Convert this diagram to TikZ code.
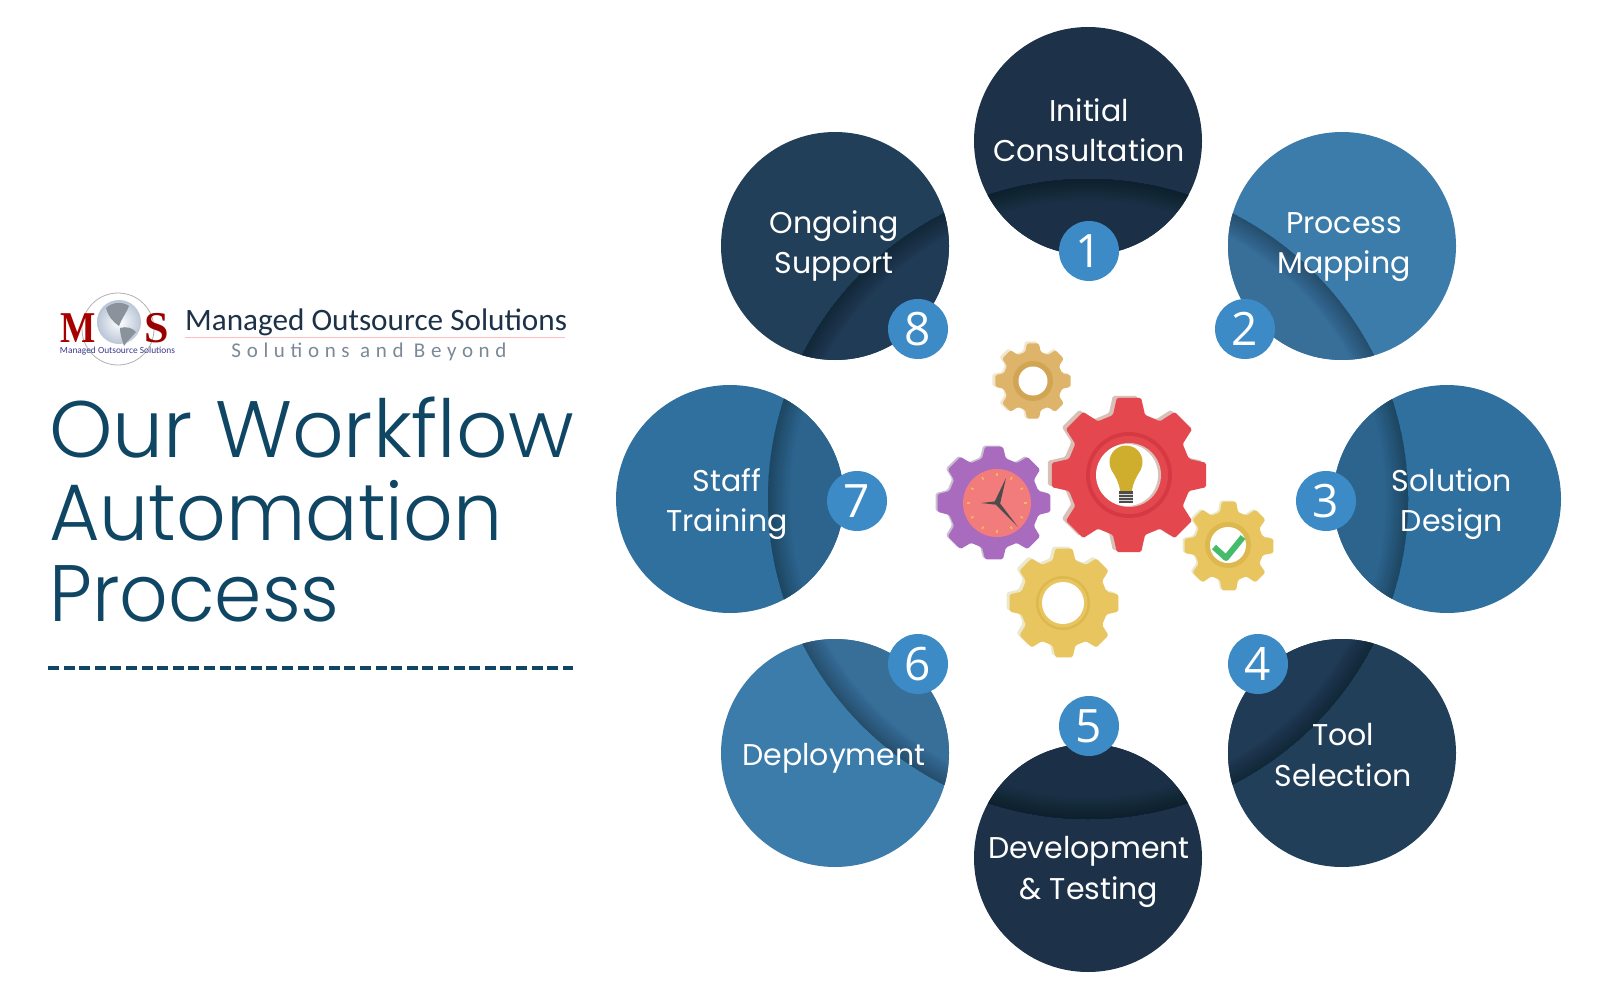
\documentclass[tikz,border=0pt]{standalone}
\usepackage{fontspec}
\setmainfont{Poppins}
\newfontfamily\titlefont{Poppins Light}
\newfontfamily\digitfont{Open Sans}
\newfontfamily\logofont{Carlito}
\newfontfamily\logoserif{Liberation Serif}
\usetikzlibrary{calc}

\definecolor{navy}{HTML}{1D3249}
\definecolor{navydark}{HTML}{1B3046}
\definecolor{sky}{HTML}{3C7CAA}
\definecolor{skydark}{HTML}{376F99}
\definecolor{steel}{HTML}{30709F}
\definecolor{steeldark}{HTML}{2C648E}
\definecolor{slate}{HTML}{223F5A}
\definecolor{slatedark}{HTML}{203B55}
\definecolor{badge}{HTML}{3C8BC6}
\definecolor{titleblue}{HTML}{0F4664}
\definecolor{logoglobe}{HTML}{B9C6D6}
\definecolor{logoland}{HTML}{8A939C}
\definecolor{logotagline}{HTML}{7C8896}
\definecolor{logosmalltext}{HTML}{3A3A8C}
\definecolor{gearred}{HTML}{E5474F}
\definecolor{gearreddark}{HTML}{D53A44}
\definecolor{gearredback}{HTML}{D8C0B6}
\definecolor{geartan}{HTML}{DDB469}
\definecolor{geartandark}{HTML}{D2A555}
\definecolor{geartanback}{HTML}{F2E6CF}
\definecolor{gearpurple}{HTML}{A96BBD}
\definecolor{gearpurpleback}{HTML}{C9BED2}
\definecolor{gearyellow}{HTML}{E8C55F}
\definecolor{gearyellowdark}{HTML}{DDB84E}
\definecolor{gearyellowback}{HTML}{ECE8CC}
\definecolor{clockface}{HTML}{F27B7B}
\definecolor{clocktick}{HTML}{F4B565}
\definecolor{bulb}{HTML}{CFAE2E}
\definecolor{tick}{HTML}{45BC6C}

\tikzset{
  disc/.style={circle,minimum size=228pt,inner sep=0pt,fill=#1},
  badgedisc/.style={circle,minimum size=60pt,inner sep=0pt,fill=badge,text=white,font=\digitfont\fontsize{46}{46}\selectfont},
  steplabel/.style={text=white,align=center,inner sep=0pt,font=\fontsize{30}{40.5}\selectfont},
  titleline/.style={anchor=base west,inner sep=0pt,text=titleblue,font=\titlefont\fontsize{80}{80}\selectfont},
}

% x, y, outer radius, root radius, colour
\newcommand{\gearshape}[5]{
  \fill[#5,rounded corners=1.5pt] ({#1+#4*cos(-15)},{#2+#4*sin(-15)})
    \foreach \a in {0,45,...,315} {
      -- ({#1+#3*cos(\a-9)},{#2+#3*sin(\a-9)})
      -- ({#1+#3*cos(\a+9)},{#2+#3*sin(\a+9)})
      -- ({#1+#4*cos(\a+15)},{#2+#4*sin(\a+15)})
      -- ({#1+#4*cos(\a+30)},{#2+#4*sin(\a+30)})
    } -- cycle;
}

% name, x, y, main colour, colour of the part near the hub
\newcommand{\stepdisc}[5]{
  \node[disc=#4] (#1) at (#2,#3) {};
  \begin{scope}
    \clip (#2,#3) circle (114);
    \clip (hub) circle (320);
    \fill[#5] (hub) circle (320);
    \foreach \w in {44,41,...,2} {
      \draw[black,opacity=.018,line width=\w pt] (hub) circle (320);
    }
  \end{scope}
}

\begin{document}
\begin{tikzpicture}[x=1pt,y=-1pt,cap=butt,>=latex]
        \useasboundingbox (0,0) rectangle (1600,1000);
        \fill[white] (0,0) rectangle (1600,1000);
        \coordinate (hub) at (1088,499);

        % logo
        \draw[gray!60,line width=.8pt] (118,329) circle (36);
        \shade[inner color=white,outer color=logoglobe] (119,322) circle (22);
        \fill[logoland] (106,308) .. controls (113,301) and (124,302) .. (129,306) .. controls (127,312) and (123,316) .. (119,326) .. controls (113,322) and (108,316) .. (106,308) -- cycle;
        \fill[logoland] (120,328) .. controls (126,326) and (133,328) .. (136,332) .. controls (132,337) and (127,341) .. (124,346) .. controls (122,340) and (120,334) .. (120,328) -- cycle;
        \node[inner sep=0pt,anchor=base west,text=red!65!black,font=\logoserif\bfseries\fontsize{44}{44}\selectfont] (logoM) at (60,342) {\addfontfeatures{FakeStretch=.85}M};
        \node[inner sep=0pt,anchor=base west,text=red!60!black,font=\logoserif\bfseries\fontsize{44}{44}\selectfont] (logoS) at (144,342) {S};
        \node[inner sep=0pt,text=logosmalltext,font=\logofont\fontsize{9.4}{10}\selectfont] (logosmall) at (117.5,351) {Managed Outsource Solutions};
        \node[inner sep=0pt,anchor=base west,text=navy,font=\logofont\fontsize{31.2}{32}\selectfont] (logoname) at (185,330) {Managed Outsource Solutions};
        \draw[red!25,line width=1pt] (185,337) -- (565,337);
        \node[inner sep=0pt,anchor=base,text=logotagline,font=\logofont\fontsize{21}{22}\addfontfeatures{LetterSpace=27}\selectfont] (logotag) at (369,357) {Solutions and Beyond};

        % title
        \node[titleline] (title1) at (49,457) {\addfontfeatures{FakeStretch=1.008}Our Workflow};
        \node[titleline] (title2) at (49,540) {\addfontfeatures{FakeStretch=.97}Automation};
        \node[titleline] (title3) at (49,621) {\addfontfeatures{FakeStretch=.95}Process};
        \draw[titleblue,line width=4.2pt,dash pattern=on 11pt off 4.6pt] (48,668) -- (573,668);

        % the eight steps
        \stepdisc{initial}{1088}{141}{navy}{navydark}
        \stepdisc{mapping}{1342}{246}{sky}{skydark}
        \stepdisc{design}{1447}{499}{steel}{steeldark}
        \stepdisc{tool}{1342}{753}{slate}{slatedark}
        \stepdisc{testing}{1088}{858}{navy}{navydark}
        \stepdisc{deploy}{835}{753}{sky}{skydark}
        \stepdisc{training}{730}{499}{steel}{steeldark}
        \stepdisc{support}{835}{246}{slate}{slatedark}

        \node[steplabel] (initiallabel) at (1089,130) {Initial\\Consultation};
        \node[steplabel] (mappinglabel) at (1344,247) {Process\\Mapping};
        \node[steplabel] (designlabel) at (1452,504) {Solution\\Design};
        \node[steplabel] (toollabel) at (1343,755) {Tool\\Selection};
        \node[steplabel] (testinglabel) at (1089,872) {Development\\\& Testing};
        \node[steplabel] (deploylabel) at (834,758) {Deployment};
        \node[steplabel] (traininglabel) at (727,504) {Staff\\Training};
        \node[steplabel] (supportlabel) at (834,246) {Ongoing\\Support};

        \node[badgedisc] (badge1) at (1089,251) {1};
        \node[badgedisc] (badge2) at (1245,329) {2};
        \node[badgedisc] (badge3) at (1326,501) {3};
        \node[badgedisc] (badge4) at (1258,664) {4};
        \node[badgedisc] (badge5) at (1089,726) {5};
        \node[badgedisc] (badge6) at (918,664) {6};
        \node[badgedisc] (badge7) at (857,501) {7};
        \node[badgedisc] (badge8) at (918,329) {8};

        % tan gear
        \gearshape{1031}{380}{39}{30}{geartanback}
        \gearshape{1033}{381}{38}{30}{geartan}
        \fill[geartandark] (1033,381) circle (20);
        \fill[white] (1033,381) circle (14.5);

        % red gear
        \gearshape{1125}{473}{78}{62}{gearredback}
        \gearshape{1129}{475}{78}{62}{gearred}
        \fill[gearreddark] (1129,475) circle (43);
        \fill[gearred] (1129,475) circle (39);
        \fill[gearredback] (1129,475) circle (32);
        \fill[white] (1127,475) circle (31);
        \fill[bulb] (1126,462) circle (16.5);
        \fill[bulb] (1111,469) .. controls (1116,478) and (1119,482) .. (1120,491) -- (1132,491) .. controls (1133,482) and (1136,478) .. (1141,469) -- cycle;
        \fill[gray!60!black] (1119,491) rectangle (1133,503);
        \draw[gray!30,line width=.8pt] (1119,494) -- (1133,494) (1119,497) -- (1133,497) (1119,500) -- (1133,500);

        % purple gear
        \gearshape{992}{502}{57}{46}{gearpurpleback}
        \gearshape{994}{503}{57}{46}{gearpurple}
        \fill[clockface] (997,503) circle (34);
        \foreach \a in {0,30,...,330} {
          \draw[clocktick,line width=1.6pt] ({997+27*cos(\a)},{503+27*sin(\a)}) -- ({997+30*cos(\a)},{503+30*sin(\a)});
        }
        \fill[black!70] (994,503) -- (1006,478) -- (1000,504) -- cycle;
        \fill[black!70] (996,505) -- (1018,527) -- (999,502) -- cycle;
        \fill[black!70] (999,501) -- (981,503) -- (999,505) -- cycle;

        % big yellow gear
        \gearshape{1061}{601}{55}{44}{gearyellowback}
        \gearshape{1064}{603}{55}{44}{gearyellow}
        \fill[gearyellowdark] (1063,603) circle (27);
        \fill[gearyellow] (1063,603) circle (24.5);
        \fill[white] (1063,603) circle (21);

        % right yellow gear
        \gearshape{1227}{545}{45}{35}{gearyellowback}
        \gearshape{1229}{546}{45}{35}{gearyellow}
        \fill[gearyellowdark] (1228,545) circle (23);
        \fill[white] (1228,545) circle (18);
        \draw[tick,line width=6pt,line join=round] (1214,547) -- (1226,558) -- (1243,537);
\end{tikzpicture}
\end{document}
